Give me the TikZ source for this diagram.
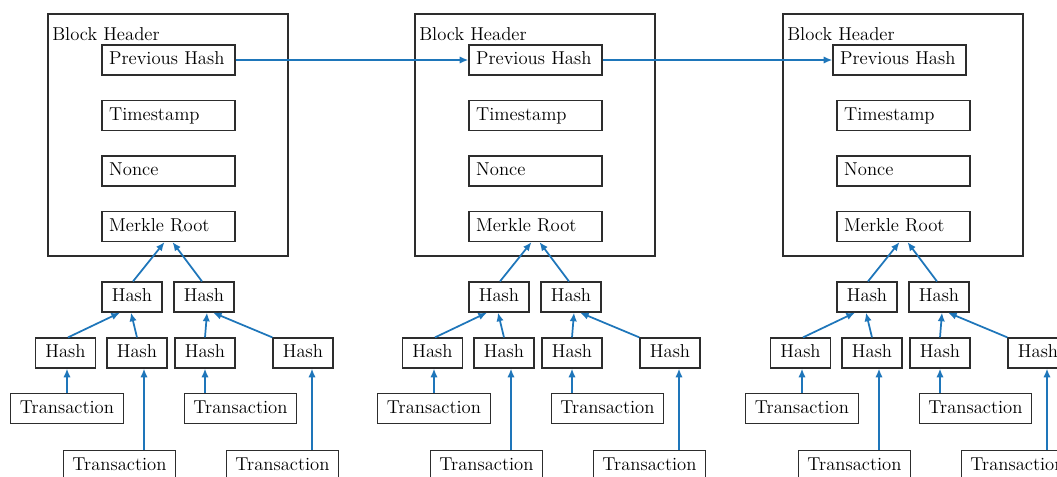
\documentclass[tikz,border=0pt]{standalone}
\usetikzlibrary{arrows.meta,calc}
\definecolor{linkblue}{RGB}{30,118,186}
\definecolor{boxgray}{RGB}{45,45,45}
\begin{document}
\begin{tikzpicture}[x=0.75pt,y=-0.75pt,
  font=\fontsize{14}{16}\selectfont,
  box/.style={draw=boxgray,line width=0.9pt,inner sep=0pt,text height=9.8pt,text depth=2.9pt},
  field/.style={box,minimum height=22.5pt,text width=89pt,inner xsep=5.4pt,align=left},
  hashbox/.style={box,minimum width=45pt,minimum height=22.5pt},
  txbox/.style={box,minimum width=84.5pt,minimum height=23pt},
  blockframe/.style={draw=boxgray,line width=0.9pt,minimum width=180pt,minimum height=181.5pt,inner sep=0pt},
  link/.style={draw=linkblue,line width=1.3pt,-{Latex[length=6.5pt,width=5.5pt]}}]
  \clip (0,0) rectangle (1057,476);
  \fill[white] (0,0) rectangle (1057,476);

  % three blocks, each with its header fields and Merkle tree
  \foreach \i/\bx/\px in {1/0/0,2/367/0,3/735/-4}{
    \node[blockframe] (blk\i) at (168+\bx,135) {};
    \node[anchor=base west,inner sep=0pt] (hdr\i) at (52+\bx,40) {Block Header};
    \node[field] (prev\i) at (168.5+\bx+\px,60) {Previous Hash};
    \node[field] (time\i) at (168.5+\bx,115.5) {Timestamp};
    \node[field] (nonce\i) at (168.5+\bx,171) {Nonce};
    \node[field] (mr\i) at (168.5+\bx,226.5) {Merkle Root};

    % Merkle tree
    \node[hashbox] (ha\i) at (132+\bx,297) {Hash};
    \node[hashbox] (hb\i) at (204+\bx,297) {Hash};
    \node[hashbox] (lf1-\i) at (65.5+\bx,353) {Hash};
    \node[hashbox] (lf2-\i) at (137+\bx,353) {Hash};
    \node[hashbox] (lf3-\i) at (205+\bx,353) {Hash};
    \node[hashbox] (lf4-\i) at (303+\bx,353) {Hash};
    \node[txbox] (tx1-\i) at (67+\bx,408.5) {Transaction};
    \node[txbox] (tx3-\i) at (240.5+\bx,408.5) {Transaction};
    \node[txbox] (tx2-\i) at (119.5+\bx,465.5) {Transaction};
    \node[txbox] (tx4-\i) at (282.5+\bx,465.5) {Transaction};

    \draw[link] (tx1-\i.north) -- (tx1-\i.north |- lf1-\i.south);
    \draw[link] ($(tx2-\i.north)+(24.5,0)$) -- ($(lf2-\i.south)+(7,0)$);
    \draw[link] (lf3-\i.south |- tx3-\i.north) -- (lf3-\i.south);
    \draw[link] ($(tx4-\i.north)+(29.5,0)$) -- ($(lf4-\i.south)+(9,0)$);
    \draw[link] ($(lf1-\i.north)+(2.5,0)$) -- ($(ha\i.south)+(-12,0)$);
    \draw[link] (lf2-\i.north) -- ($(ha\i.south)+(-1,0)$);
    \draw[link] (lf3-\i.north) -- ($(hb\i.south)+(3,0)$);
    \draw[link] (lf4-\i.north west) -- ($(hb\i.south)+(9,0)$);
    \draw[link] ($(ha\i.north)+(1,0)$) -- ($(mr\i.south)+(-4,0)$);
    \draw[link] ($(hb\i.north)+(-2,0)$) -- ($(mr\i.south)+(4,0)$);
  }

  % chain links between consecutive blocks
  \draw[link] (prev1.east) -- (prev2.west);
  \draw[link] (prev2.east) -- (prev3.west);
\end{tikzpicture}
\end{document}
